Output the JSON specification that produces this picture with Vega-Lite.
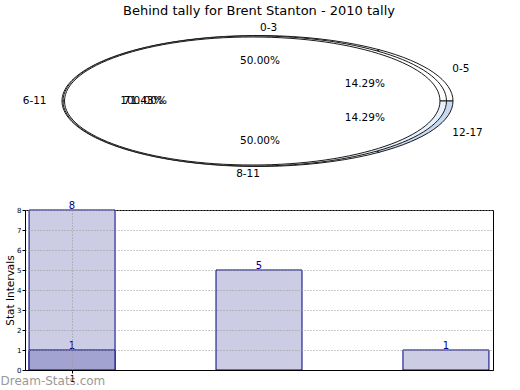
{
  "$schema": "https://vega.github.io/schema/vega-lite/v6.json",
  "padding": {"top": 5, "left": 0, "right": 0, "bottom": 0},
  "spacing": 8,
  "resolve": {"scale": {"fill": "independent"}},
  "config": {"font": "DejaVu Sans", "view": {"stroke": "black", "strokeWidth": 1}},
  "datasets": {
    "pies": [
      {"pie": "B", "slice": "0-5", "value": 1},
      {"pie": "B", "slice": "6-11", "value": 5},
      {"pie": "B", "slice": "12-17", "value": 1},
      {"pie": "A", "slice": "0-3", "value": 1},
      {"pie": "A", "slice": "8-11", "value": 1},
      {"pie": "D", "slice": "6-11", "value": 1}
    ],
    "bars": [
      {"series": "A", "interval": 1, "count": 8},
      {"series": "A", "interval": 2, "count": 5},
      {"series": "A", "interval": 3, "count": 1},
      {"series": "B", "interval": 1, "count": 1}
    ]
  },
  "vconcat": [
    {
      "width": 468,
      "height": 170,
      "title": {"text": "Behind tally for Brent Stanton - 2010 tally", "fontSize": 13, "fontWeight": "normal", "anchor": "middle", "offset": 4, "color": "black"},
      "view": {"stroke": null},
      "data": {"name": "pies"},
      "transform": [
        {"stack": "value", "groupby": ["pie"], "offset": "normalize", "as": ["s0", "s1"]},
        {"calculate": "2*PI*datum.s0", "as": "a0"},
        {"calculate": "2*PI*datum.s1", "as": "a1"},
        {"calculate": "(datum.a0+datum.a1)/2", "as": "am"},
        {"calculate": "datum.pie === 'B' ? -0.0128 : datum.pie === 'A' ? -0.0269 : -0.0397", "as": "ox"},
        {"calculate": "datum.pie === 'B' ? 1.0026 : datum.pie === 'A' ? 0.9833 : 0.9628", "as": "rx"},
        {"calculate": "datum.pie === 'B' ? 0.3359 : datum.pie === 'A' ? 0.3333 : 0.3282", "as": "ry"},
        {"calculate": "round(datum.ox*10000)/10000", "as": "qo"},
        {"calculate": "round(datum.rx*10000)/10000", "as": "qrx"},
        {"calculate": "round(datum.ry*10000)/10000", "as": "qry"},
        {"calculate": "round((datum.ox+datum.rx)*10000)/10000", "as": "qR"},
        {"calculate": "round((datum.ox-datum.rx)*10000)/10000", "as": "qL"},
        {"calculate": "round((datum.ox+datum.rx*cos(datum.a0))*10000)/10000", "as": "x0"},
        {"calculate": "round((-datum.ry*sin(datum.a0))*10000)/10000", "as": "y0"},
        {"calculate": "round((datum.ox+datum.rx*cos(datum.am))*10000)/10000", "as": "xm"},
        {"calculate": "round((-datum.ry*sin(datum.am))*10000)/10000", "as": "ym"},
        {"calculate": "round((datum.ox+datum.rx*cos(datum.a1))*10000)/10000", "as": "x1"},
        {"calculate": "round((-datum.ry*sin(datum.a1))*10000)/10000", "as": "y1"},
        {"calculate": "(datum.s1-datum.s0) > 0.9999 ? ('M' + datum.qR + ',0A' + datum.qrx + ',' + datum.qry + ',0,0,0,' + datum.qL + ',0A' + datum.qrx + ',' + datum.qry + ',0,0,0,' + datum.qR + ',0Z') : ('M' + datum.qo + ',0L' + datum.x0 + ',' + datum.y0 + 'A' + datum.qrx + ',' + datum.qry + ',0,0,0,' + datum.xm + ',' + datum.ym + 'A' + datum.qrx + ',' + datum.qry + ',0,0,0,' + datum.x1 + ',' + datum.y1 + 'Z')", "as": "path"},
        {"calculate": "datum.pie + ':' + datum.slice", "as": "wedge"},
        {"calculate": "1.1*0.995*cos(datum.am)", "as": "lx"},
        {"calculate": "1.1*0.34*sin(datum.am)", "as": "ly"},
        {"calculate": "0.6*0.995*cos(datum.am)", "as": "tx"},
        {"calculate": "0.6*0.34*sin(datum.am)", "as": "ty"},
        {"calculate": "format((datum.s1-datum.s0)*100, '.2f') + '%'", "as": "pct"}
      ],
      "encoding": {
        "x": {"type": "quantitative", "scale": {"domain": [-1.2051, 1.1949], "nice": false, "zero": false}, "axis": null},
        "y": {"type": "quantitative", "scale": {"domain": [-0.4667, 0.4051], "nice": false, "zero": false}, "axis": null}
      },
      "layer": [
        {
          "mark": {"type": "point", "filled": true, "opacity": 1, "stroke": "#1a1a1a", "strokeWidth": 1, "size": 152100},
          "encoding": {
            "x": {"datum": 0, "type": "quantitative"},
            "y": {"datum": 0, "type": "quantitative"},
            "shape": {"field": "path", "type": "nominal", "scale": null},
            "fill": {"field": "wedge", "type": "nominal", "scale": {"domain": ["B:0-5", "B:6-11", "B:12-17", "A:0-3", "A:8-11", "D:6-11"], "range": ["#ffffff", "#ffffff", "#c6d9f1", "#ffffff", "#e8f0fb", "#ffffff"]}, "legend": null}
          }
        },
        {
          "transform": [{"filter": "cos(datum.am) > 0"}],
          "mark": {"type": "text", "align": "left", "baseline": "middle", "fontSize": 10.5, "color": "black"},
          "encoding": {
            "x": {"field": "lx", "type": "quantitative"},
            "y": {"field": "ly", "type": "quantitative"},
            "text": {"field": "slice"}
          }
        },
        {
          "transform": [{"filter": "cos(datum.am) <= 0 && datum.pie !== 'D'"}],
          "mark": {"type": "text", "align": "right", "baseline": "middle", "fontSize": 10.5, "color": "black"},
          "encoding": {
            "x": {"field": "lx", "type": "quantitative"},
            "y": {"field": "ly", "type": "quantitative"},
            "text": {"field": "slice"}
          }
        },
        {
          "mark": {"type": "text", "align": "center", "baseline": "middle", "fontSize": 10.5, "color": "black"},
          "encoding": {
            "x": {"field": "tx", "type": "quantitative"},
            "y": {"field": "ty", "type": "quantitative"},
            "text": {"field": "pct"}
          }
        }
      ]
    },
    {
      "width": 468,
      "height": 160,
      "data": {"name": "bars"},
      "title": {"text": "Dream-Stats.com", "orient": "bottom", "anchor": "start", "frame": "bounds", "offset": -26, "dx": -5, "fontSize": 12, "fontWeight": "normal", "color": "#999999"},
      "encoding": {
        "x": {"field": "interval", "type": "quantitative", "scale": {"domain": [0.775, 3.225], "nice": false, "zero": false},
              "axis": {"values": [1], "format": "d", "title": "Frequency", "titleFontSize": 10.5, "titleFontWeight": "normal", "titlePadding": 8, "labelFontSize": 8, "tickSize": 3, "grid": true, "gridDash": [1, 2], "gridColor": "#999999", "domainColor": "black", "tickColor": "black", "labelColor": "black", "titleColor": "black", "zindex": 1}},
        "y": {"field": "count", "type": "quantitative", "stack": null, "scale": {"domain": [0, 8], "nice": false},
              "axis": {"values": [0, 1, 2, 3, 4, 5, 6, 7, 8], "labelOverlap": false, "format": "d", "title": "Stat Intervals", "titleFontSize": 10.5, "titleFontWeight": "normal", "titlePadding": 1, "labelFontSize": 7, "labelPadding": 1, "tickSize": 3, "grid": true, "gridDash": [1, 2], "gridColor": "#999999", "domainColor": "black", "tickColor": "black", "labelColor": "black", "titleColor": "black", "zindex": 1}}
      },
      "layer": [
        {
          "mark": {"type": "bar", "width": 86, "stroke": "#000080", "strokeWidth": 1},
          "encoding": {
            "fill": {"field": "series", "type": "nominal", "scale": {"domain": ["A", "B"], "range": ["#ccccE5", "#a3a3d1"]}, "legend": null}
          }
        },
        {
          "mark": {"type": "text", "baseline": "bottom", "dy": 1, "fontSize": 10, "color": "#00008b"},
          "encoding": {
            "text": {"field": "count"}
          }
        }
      ]
    }
  ]
}
